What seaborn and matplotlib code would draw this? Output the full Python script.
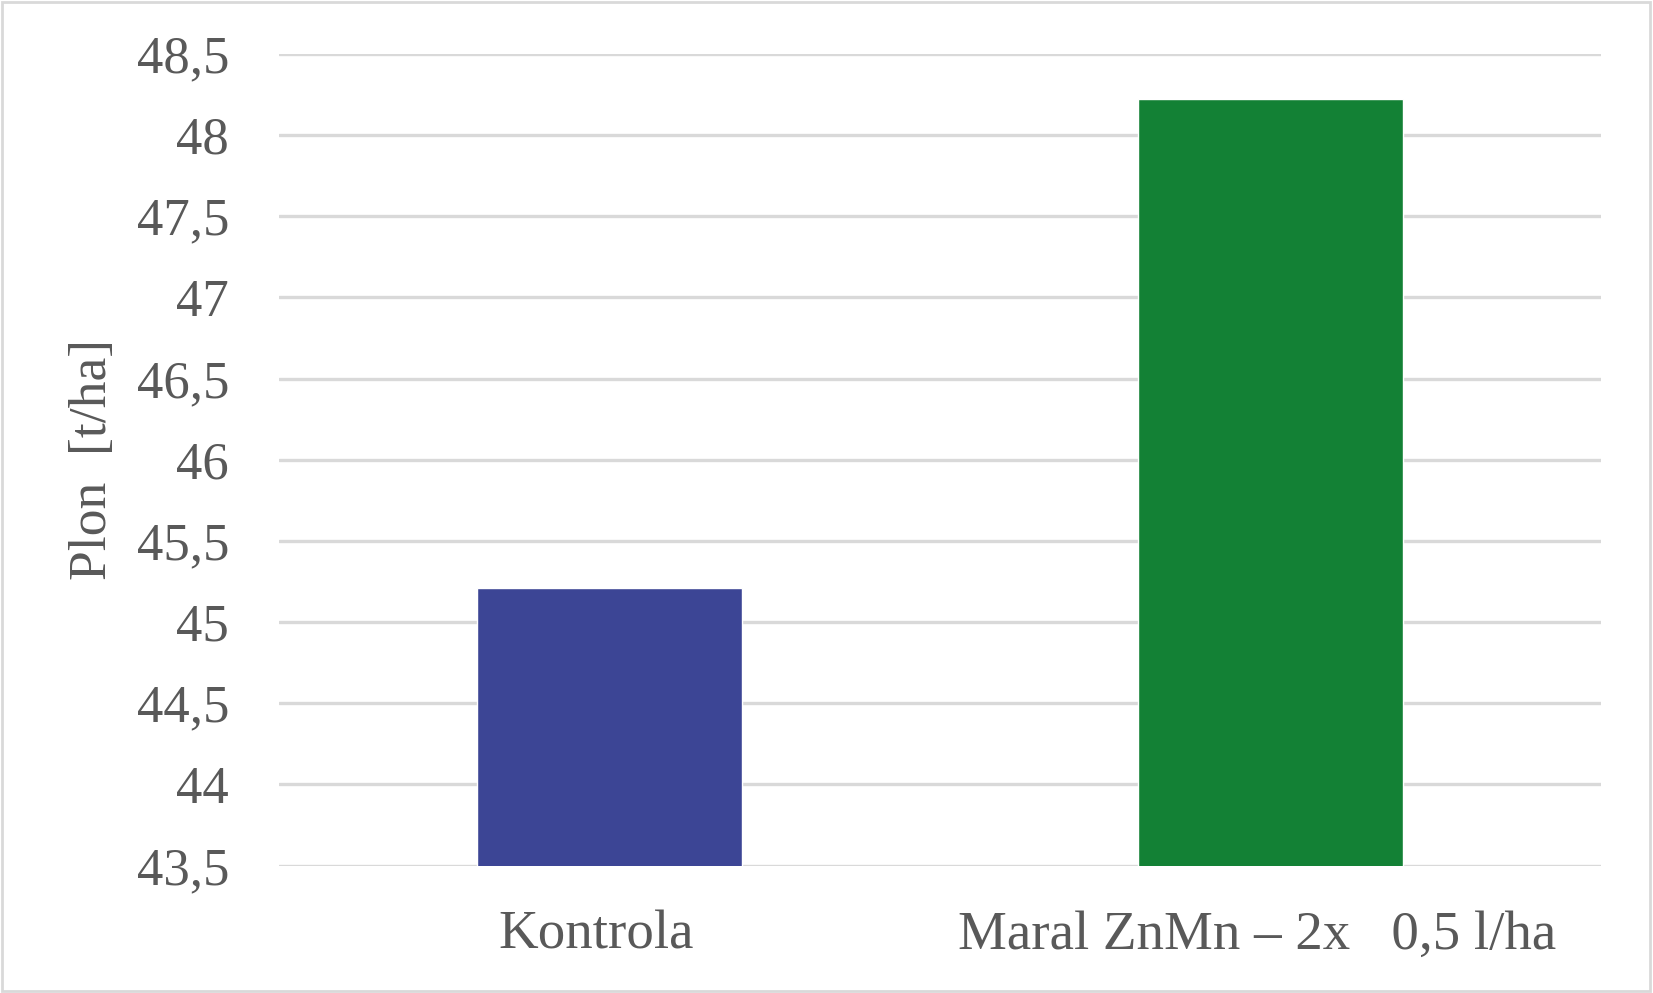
import matplotlib
matplotlib.use('Agg')
import matplotlib.pyplot as plt
from matplotlib.ticker import FuncFormatter, MultipleLocator
from matplotlib.transforms import ScaledTranslation
import pandas as pd
import seaborn as sns

categories = ['Kontrola', 'Maral ZnMn – 2x   0,5 l/ha']
yields = [45.21, 48.22]
bar_colors = ['#3c4595', '#138135']

sns.set_theme(style='white')
plt.rcParams['font.family'] = ['Liberation Serif', 'DejaVu Serif']

df = pd.DataFrame({'variant': categories, 'plon': yields})

fig = plt.figure(figsize=(16.53, 9.93), dpi=100)
ax = fig.add_axes([0.1688, 0.1283, 0.7998, 0.8175])

# bars start from the bottom of the axis (43,5), as in the original chart
sns.barplot(data=df, x='variant', y='plon', hue='variant', palette=bar_colors,
            saturation=1, width=0.4, legend=False, ax=ax, bottom=0)

ax.set_ylim(43.5, 48.5)
ax.set_xlim(-0.5, 1.5)
ax.yaxis.set_major_locator(MultipleLocator(0.5))
ax.yaxis.set_major_formatter(FuncFormatter(lambda v, p: ('%g' % v).replace('.', ',')))
ax.grid(axis='y', color='#d9d9d9', linewidth=2.4)
ax.set_axisbelow(True)
for s in ax.spines.values():
    s.set_visible(False)

ax.tick_params(axis='both', length=0, labelcolor='#595959')
ax.tick_params(axis='y', pad=36, labelsize=38)
ax.tick_params(axis='x', pad=32, labelsize=39.5)
# category labels sit a little left of the bar centres in the original
shift = ScaledTranslation(-0.135, 0, fig.dpi_scale_trans)
for lab in ax.get_xticklabels():
    lab.set_transform(lab.get_transform() + shift)
ax.set_xlabel('')
ax.set_ylabel('Plon  [t/ha]', fontsize=38.5, color='#595959', labelpad=14)

# thin frame around the whole chart
fig.patches.append(plt.Rectangle((0.001, 0.002), 0.997, 0.996, transform=fig.transFigure,
                                 fill=False, edgecolor='#d9d9d9', linewidth=2))

fig.savefig('out.png', dpi=100)
